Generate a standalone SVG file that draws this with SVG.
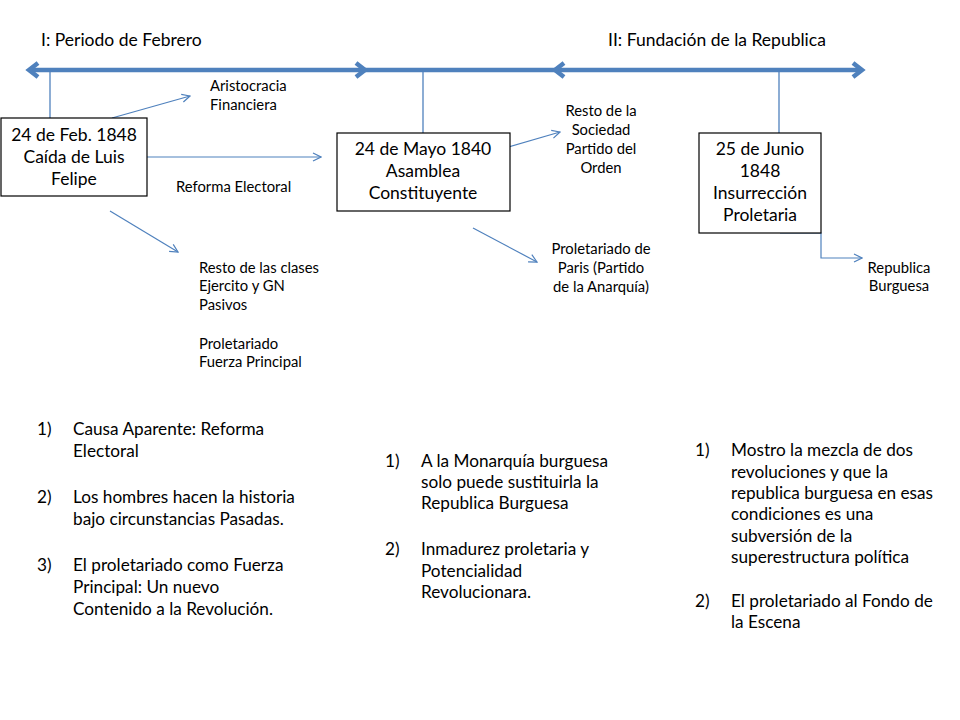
<svg xmlns="http://www.w3.org/2000/svg" width="960" height="720" viewBox="0 0 960 720">
<style>
text{font-family:Lato,"Open Sans","Liberation Sans",sans-serif;fill:#000}
.t{font-size:17.5px}
.b{font-size:17.2px}
.s{font-size:14.8px}
.box{fill:#fff;stroke:#000;stroke-width:1.2}
.thick{stroke:#4F81BD;stroke-width:4.5;fill:none}
.tick{stroke:#4F81BD;stroke-width:1.3;fill:none}
.thin{stroke:#4F81BD;stroke-width:1.2;fill:none}
.mid{text-anchor:middle}
</style>
<defs>
<marker id="ah" viewBox="0 0 10 10" refX="9" refY="5" markerWidth="10" markerHeight="10" markerUnits="userSpaceOnUse" orient="auto">
<path d="M1,1 L9,5 L1,9" fill="none" stroke="#4F81BD" stroke-width="1.2"/>
</marker>
</defs>
<g id="titles">
<text class="t" x="41" y="46">I: Periodo de Febrero</text>
<text class="t" x="608" y="46">II: Fundación de la Republica</text>
</g>
<g id="connectors">
<line class="thick" x1="29" y1="70" x2="861" y2="70"/>
<path class="thick" d="M38,63 L29,70 L38,77"/>
<path class="thick" d="M356,63 L365,70 L356,77"/>
<path class="thick" d="M564,63 L555,70 L564,77"/>
<path class="thick" d="M853,63 L862,70 L853,77"/>
<line class="tick" x1="50" y1="70" x2="50" y2="118"/>
<line class="tick" x1="423" y1="70" x2="423" y2="133"/>
<line class="tick" x1="779" y1="70" x2="779" y2="133"/>
<line class="thin" x1="112" y1="118" x2="190" y2="96" marker-end="url(#ah)"/>
<line class="thin" x1="147" y1="157" x2="321" y2="157" marker-end="url(#ah)"/>
<line class="thin" x1="110" y1="211" x2="178" y2="252" marker-end="url(#ah)"/>
<line class="thin" x1="505" y1="148" x2="560" y2="132" marker-end="url(#ah)"/>
<line class="thin" x1="473" y1="228" x2="537" y2="262" marker-end="url(#ah)"/>
<path class="thin" d="M780,233 L821,233 L821,258 L862,258" marker-end="url(#ah)"/>
</g>
<g id="node-feb">
<rect class="box" x="1" y="118" width="146" height="78"/>
<text class="t mid" x="74" y="141">24 de Feb. 1848</text>
<text class="t mid" x="74" y="163">Caída de Luis</text>
<text class="t mid" x="74" y="185">Felipe</text>
</g>
<g id="node-mayo">
<rect class="box" x="337" y="133" width="173" height="78"/>
<text class="t mid" x="423" y="155">24 de Mayo 1840</text>
<text class="t mid" x="423" y="177">Asamblea</text>
<text class="t mid" x="423" y="199">Constituyente</text>
</g>
<g id="node-junio">
<rect class="box" x="699" y="133" width="122" height="100"/>
<text class="t mid" x="760" y="155">25 de Junio</text>
<text class="t mid" x="760" y="177">1848</text>
<text class="t mid" x="760" y="199">Insurrección</text>
<text class="t mid" x="760" y="221">Proletaria</text>
</g>
<g id="label-aristocracia">
<text class="s" x="210" y="91">Aristocracia</text>
<text class="s" x="210" y="110">Financiera</text>
</g>
<g id="label-reforma">
<text class="s" x="176" y="192">Reforma Electoral</text>
</g>
<g id="label-resto-clases">
<text class="s" x="199" y="273">Resto de las clases</text>
<text class="s" x="199" y="291">Ejercito y GN</text>
<text class="s" x="199" y="310">Pasivos</text>
<text class="s" x="199" y="349">Proletariado</text>
<text class="s" x="199" y="367">Fuerza Principal</text>
</g>
<g id="label-resto-sociedad">
<text class="s mid" x="601" y="116">Resto de la</text>
<text class="s mid" x="601" y="135">Sociedad</text>
<text class="s mid" x="601" y="154">Partido del</text>
<text class="s mid" x="601" y="173">Orden</text>
</g>
<g id="label-proletariado-paris">
<text class="s mid" x="601" y="254">Proletariado de</text>
<text class="s mid" x="601" y="273">Paris (Partido</text>
<text class="s mid" x="601" y="292">de la Anarquía)</text>
</g>
<g id="label-republica">
<text class="s mid" x="899" y="273">Republica</text>
<text class="s mid" x="899" y="291">Burguesa</text>
</g>
<g id="list-1">
<text class="b" x="37" y="435">1)</text>
<text class="b" x="73" y="435">Causa Aparente: Reforma</text>
<text class="b" x="73" y="457">Electoral</text>
<text class="b" x="37" y="503">2)</text>
<text class="b" x="73" y="503">Los hombres hacen la historia</text>
<text class="b" x="73" y="525">bajo circunstancias Pasadas.</text>
<text class="b" x="37" y="571">3)</text>
<text class="b" x="73" y="571">El proletariado como Fuerza</text>
<text class="b" x="73" y="593">Principal: Un nuevo</text>
<text class="b" x="73" y="615">Contenido a la Revolución.</text>
</g>
<g id="list-2">
<text class="b" x="385" y="467">1)</text>
<text class="b" x="421" y="467">A la Monarquía burguesa</text>
<text class="b" x="421" y="488">solo puede sustituirla la</text>
<text class="b" x="421" y="509">Republica Burguesa</text>
<text class="b" x="385" y="555">2)</text>
<text class="b" x="421" y="555">Inmadurez proletaria y</text>
<text class="b" x="421" y="577">Potencialidad</text>
<text class="b" x="421" y="598">Revolucionara.</text>
</g>
<g id="list-3">
<text class="b" x="695" y="456">1)</text>
<text class="b" x="731" y="456">Mostro la mezcla de dos</text>
<text class="b" x="731" y="478">revoluciones y que la</text>
<text class="b" x="731" y="499">republica burguesa en esas</text>
<text class="b" x="731" y="520">condiciones es una</text>
<text class="b" x="731" y="542">subversión de la</text>
<text class="b" x="731" y="563">superestructura política</text>
<text class="b" x="695" y="607">2)</text>
<text class="b" x="731" y="607">El proletariado al Fondo de</text>
<text class="b" x="731" y="628">la Escena</text>
</g>
</svg>
